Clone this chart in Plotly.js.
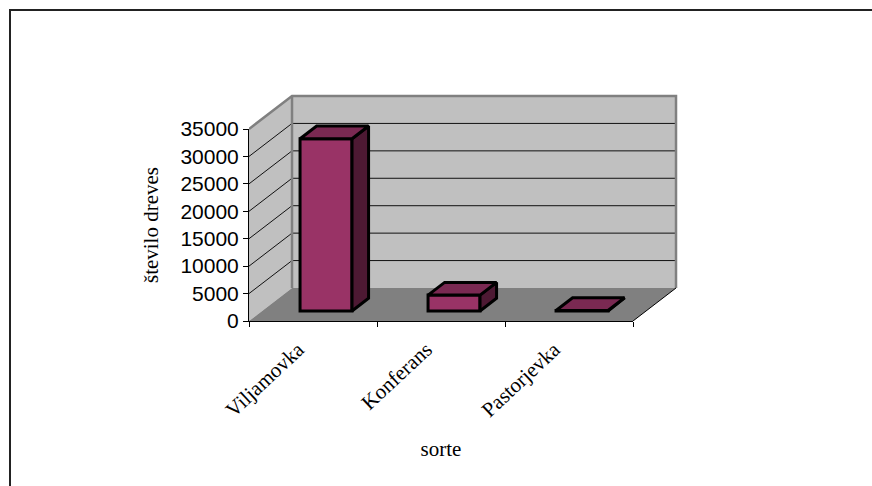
<!DOCTYPE html>
<html>
<head>
<meta charset="utf-8">
<script src="https://cdn.plot.ly/plotly-3.0.1.min.js"></script>
<style>
html, body { margin: 0; padding: 0; background: #fff; }
#chart { width: 872px; height: 486px; }
</style>
</head>
<body>
<div id="chart"></div>
<script>
// Number of trees per pear variety
const categories = ['Viljamovka', 'Konferans', 'Pastorjevka'];
const treeCounts = [31400, 2900, 100];
const valueTicks = [0, 5000, 10000, 15000, 20000, 25000, 30000, 35000];
const gridValues = [5000, 10000, 15000, 20000, 25000, 30000];
const valueMax = 35000;

// Oblique projection: one full step of depth, expressed in axis units
const depthX = 0.336;
const depthY = 6016;
// Where the bar sits in the depth of the floor, and how deep it is
const barStart = 0.303;
const barDepth = 0.385;
const barWidth = 0.406;
// Rotated category labels end a little before the category centre
const labelShift = 0.115;

const wallColor = '#C0C0C0';
const floorColor = '#808080';
const faceFront = '#993366';
const faceTop = '#7A2952';
const faceSide = '#4D1933';
const n = categories.length;

function polygon(xs, ys, fill, lineColor, lineWidth, axes) {
  return {
    type: 'scatter', mode: 'lines', x: xs.concat(xs[0]), y: ys.concat(ys[0]),
    fill: 'toself', fillcolor: fill,
    line: { color: lineColor, width: lineWidth },
    xaxis: axes[0], yaxis: axes[1], showlegend: false, hoverinfo: 'skip'
  };
}
function segment(xs, ys, color, width, axes) {
  return {
    type: 'scatter', mode: 'lines', x: xs, y: ys,
    line: { color: color, width: width },
    xaxis: axes[0], yaxis: axes[1], showlegend: false, hoverinfo: 'skip'
  };
}

// Three stacked subplots: the box, the visible axes with the bar fronts, the bar tops and sides
const box = ['x', 'y'];
const solids = ['x3', 'y3'];
const traces = [];

// Walls and floor of the box
traces.push(polygon([0, depthX, depthX, 0], [0, depthY, valueMax + depthY, valueMax], wallColor, wallColor, 0, box));
traces.push(polygon([depthX, n + depthX, n + depthX, depthX], [depthY, depthY, valueMax + depthY, valueMax + depthY], wallColor, wallColor, 0, box));
traces.push(polygon([0, n, n + depthX, depthX], [0, 0, depthY, depthY], floorColor, floorColor, 0, box));

// Gridlines run across the side wall and along the back wall
gridValues.forEach(v => {
  traces.push(segment([0, depthX, n + depthX], [v, v + depthY, v + depthY], '#111111', 1, box));
});

// Box edges
traces.push(segment([0, depthX, n + depthX, n + depthX], [valueMax, valueMax + depthY, valueMax + depthY, depthY], floorColor, 2.5, box));
traces.push(segment([depthX, depthX], [depthY, valueMax + depthY], floorColor, 2.5, box));
traces.push(segment([n, n + depthX], [0, depthY], '#000000', 1, box));

// Front faces of the bars
const barX = categories.map((c, i) => i + 0.5 + depthX * barStart);
const barBase = depthY * barStart;
traces.push({
  type: 'bar', x: barX, y: treeCounts, base: categories.map(() => barBase), width: categories.map(() => barWidth),
  marker: { color: faceFront, line: { color: '#000000', width: 3 } },
  xaxis: 'x2', yaxis: 'y2', showlegend: false, hoverinfo: 'skip', cliponaxis: false
});

// Top and side faces of the bars
treeCounts.forEach((v, i) => {
  const l = barX[i] - barWidth / 2;
  const r = barX[i] + barWidth / 2;
  const t = barBase + v;
  const dx = depthX * barDepth;
  const dy = depthY * barDepth;
  traces.push(polygon([r, r + dx, r + dx, r], [barBase, barBase + dy, t + dy, t], faceSide, '#000000', 3, solids));
  traces.push(polygon([l, r, r + dx, l + dx], [t, t, t + dy, t + dy], faceTop, '#000000', 3, solids));
});

const W = 872, H = 486;
const margin = { l: 249, r: 194, t: 94, b: 165, pad: 0 };
const plotW = W - margin.l - margin.r;
const plotH = H - margin.t - margin.b;
const paperX = px => (px - margin.l) / plotW;
const paperY = py => (H - margin.b - py) / plotH;

// The front plane of the box takes the part of the plot that the depth step leaves free
const unitX = 128;
const unitY = 192 / valueMax;
const fullRangeX = [0, plotW / unitX];
const fullRangeY = [0, plotH / unitY];
const hiddenAxis = { visible: false, domain: [0, 1] };

const layout = {
  width: W, height: H, margin: margin,
  paper_bgcolor: '#ffffff', plot_bgcolor: 'rgba(0,0,0,0)',
  showlegend: false, hovermode: false, barmode: 'overlay',
  xaxis: Object.assign({ range: fullRangeX, anchor: 'y' }, hiddenAxis),
  yaxis: Object.assign({ range: fullRangeY, anchor: 'x' }, hiddenAxis),
  xaxis2: {
    domain: [0, n * unitX / plotW], anchor: 'y2',
    range: [0, n], tickmode: 'array',
    tickvals: categories.map((c, i) => i + 0.5 - labelShift), ticktext: categories,
    tickangle: -43, ticks: '', ticklabelstandoff: 7, showgrid: false, zeroline: false,
    showline: true, linecolor: '#000000', linewidth: 1,
    tickfont: { family: 'Liberation Serif', size: 21, color: '#000000' },
    minor: { tickmode: 'array', tickvals: [0, 1, 2, 3], ticks: 'outside', ticklen: 5, tickwidth: 1, tickcolor: '#000000', showgrid: false },
    title: { text: 'sorte', standoff: 20, font: { family: 'Liberation Serif', size: 21, color: '#000000' } }
  },
  yaxis2: {
    domain: [0, valueMax * unitY / plotH], anchor: 'x2',
    range: [0, valueMax], tickmode: 'array', tickvals: valueTicks,
    ticktext: valueTicks.map(String),
    ticks: 'outside', ticklen: 5, tickwidth: 1, tickcolor: '#000000',
    showgrid: false, zeroline: false,
    showline: true, linecolor: '#000000', linewidth: 1,
    tickfont: { family: 'Liberation Sans', size: 21, color: '#000000' },
    title: { text: 'število dreves', standoff: 16, font: { family: 'Liberation Serif', size: 21, color: '#000000' } }
  },
  xaxis3: Object.assign({ range: fullRangeX, anchor: 'y3' }, hiddenAxis),
  yaxis3: Object.assign({ range: fullRangeY, anchor: 'x3' }, hiddenAxis),
  // Outer frame of the chart area: top and left edges only
  shapes: [
    { type: 'line', xref: 'paper', yref: 'paper', x0: paperX(10), x1: paperX(872), y0: paperY(10), y1: paperY(10), line: { color: '#222222', width: 2 } },
    { type: 'line', xref: 'paper', yref: 'paper', x0: paperX(10), x1: paperX(10), y0: paperY(9), y1: paperY(486), line: { color: '#222222', width: 2 } }
  ]
};

Plotly.newPlot('chart', traces, layout, { displayModeBar: false, staticPlot: true });
</script>
</body>
</html>
